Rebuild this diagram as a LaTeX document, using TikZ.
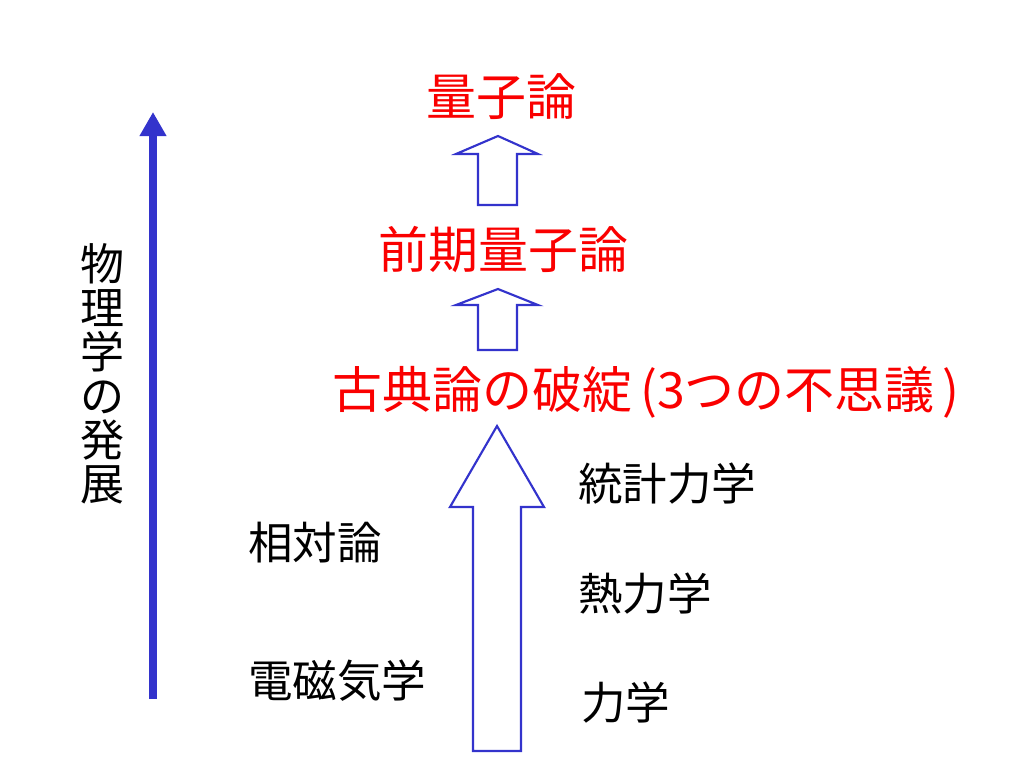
\documentclass[tikz,border=0pt]{standalone}
\usepackage{fontspec}
\newfontfamily\jp{Noto Sans CJK JP}
\usepackage{tikz}
\usetikzlibrary{arrows.meta,positioning}
\definecolor{arrblue}{RGB}{51,51,204}
\definecolor{thred}{RGB}{250,0,0}

\begin{document}
\begin{tikzpicture}[
  x=0.75pt,y=-0.75pt,
  theory/.style={inner sep=0pt,text=thred,font=\jp\fontsize{37.5}{40}\selectfont},
  field/.style={inner sep=0pt,anchor=west,font=\jp\fontsize{33.4}{36}\selectfont},
  blockarr/.style={draw=arrblue,line width=1.6pt,fill=white,line join=miter},
  devarr/.style={arrblue,line width=6pt,-{Triangle[length=18pt,width=19pt]}}
]
\useasboundingbox (0,0) rectangle (1024,768);
% theories, top to bottom
\node[theory] (qm)  at (501,97)  {量子論};
\node[theory] (oqm) at (503,249) {前期量子論};
\node[theory,anchor=west] (crisis) at (332,392) {古典論の破綻\kern6pt(3つの不思議\kern6pt)};
% classical fields
\node[field] (stat) at (578,484) {統計力学};
\node[field] (thermo) at (578,594) {熱力学};
\node[field] (mech) at (581,703) {力学};
\node[field] (rel) at (248,543) {相対論};
\node[field] (em) at (248,681) {電磁気学};
% hollow arrows
\draw[blockarr] (478,205) -- (478,154) -- (456,154) -- (498,136) -- (538,154) -- (517,154) -- (517,205) -- cycle;
\draw[blockarr] (478,350) -- (478,305) -- (456,305) -- (498,289) -- (538,305) -- (517,305) -- (517,350) -- cycle;
\draw[blockarr] (473,751) -- (473,507) -- (450,507) -- (497,426) -- (544,507) -- (521,507) -- (521,751) -- cycle;
% development axis
\coordinate (lo) at (153,699);
\coordinate (hi) at (153,112);
\draw[devarr] (lo) -- (hi);
\node[inner sep=0pt,align=center,font=\jp\fontsize{33}{33}\selectfont] (dev) at (102,374)
  {物\\理\\学\\の\\発\\展};
\end{tikzpicture}
\end{document}
